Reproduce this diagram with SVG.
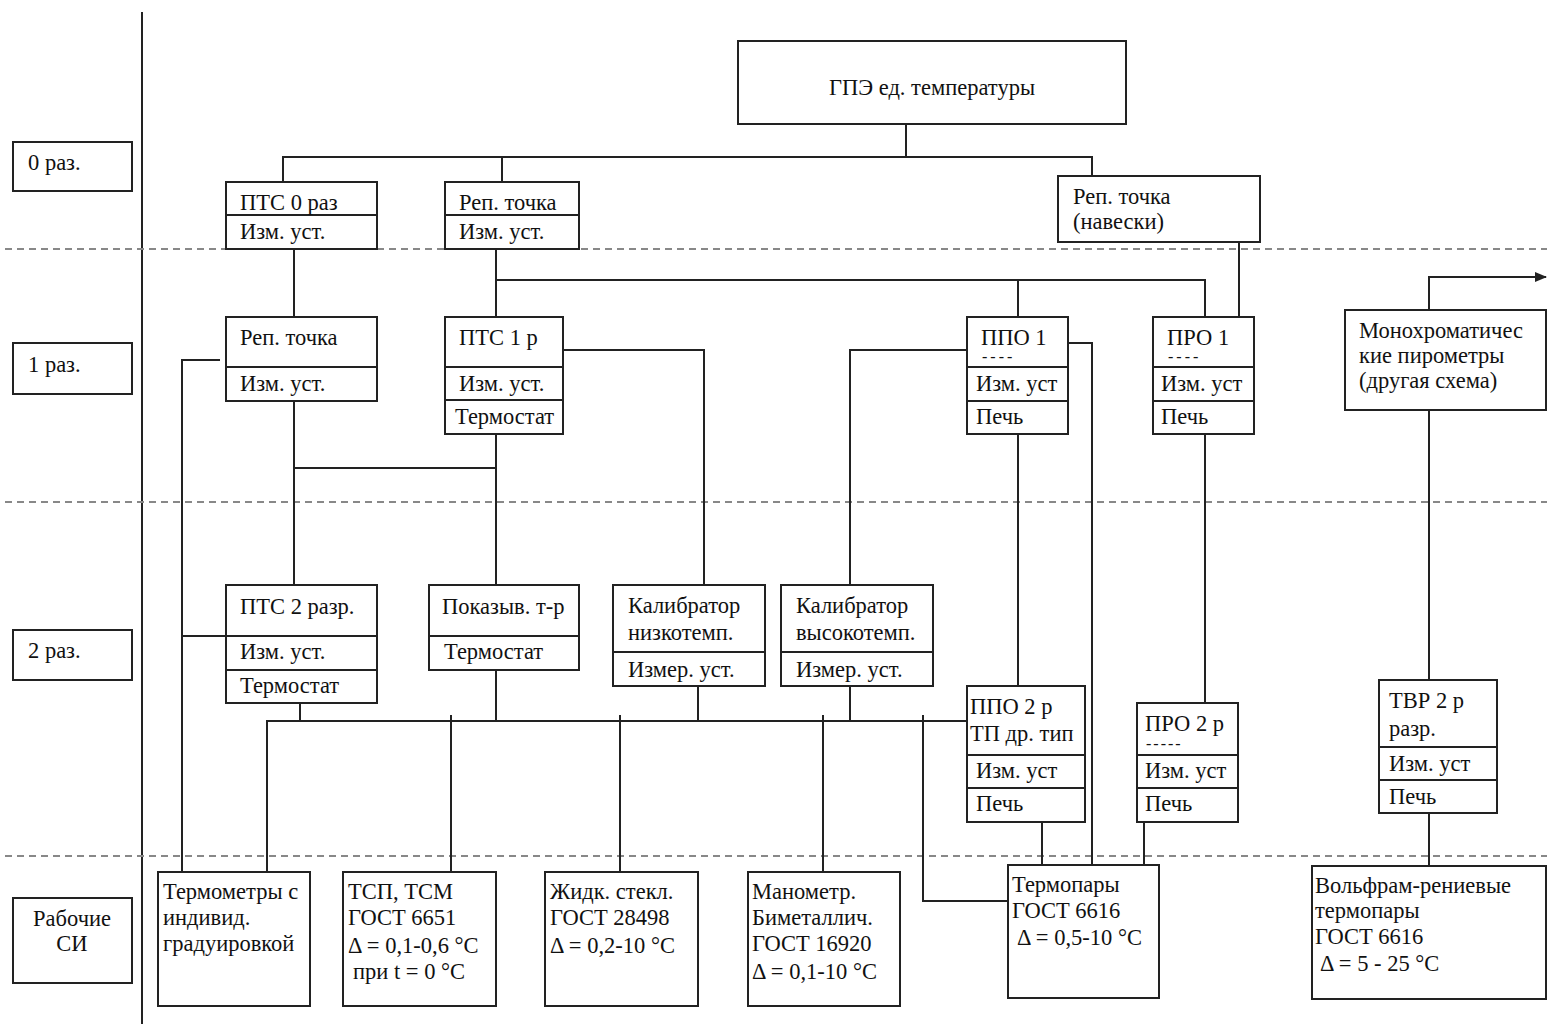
<svg xmlns="http://www.w3.org/2000/svg" width="1547" height="1024" viewBox="0 0 1547 1024">
<style>
.b{fill:#fff;stroke:#222;stroke-width:2}
.d{fill:none;stroke:#222;stroke-width:2}
.c{fill:none;stroke:#222;stroke-width:2}
.dash{stroke:#888;stroke-width:2;stroke-dasharray:7,5}
text{font-family:"Liberation Serif","Times New Roman",serif;font-size:22.5px;fill:#111}
.s{font-size:16px}
.m{text-anchor:middle}
</style>
<defs>
<marker id="arr" markerWidth="12" markerHeight="12" refX="11" refY="6" orient="auto" markerUnits="userSpaceOnUse"><path d="M0,1 L12,6 L0,11 z" fill="#222"/></marker>
</defs>
<rect width="1547" height="1024" fill="#fff"/>
<g id="grid">
<line x1="142" y1="12" x2="142" y2="1024" class="d"/>
<line x1="5" y1="249" x2="1547" y2="249" class="dash"/>
<line x1="5" y1="502" x2="1547" y2="502" class="dash"/>
<line x1="5" y1="856" x2="1547" y2="856" class="dash"/>
</g>
<g id="labels">
<g id="lbl0"><rect x="13" y="142" width="119" height="49" class="b"/><text x="28" y="170">0 раз.</text></g>
<g id="lbl1"><rect x="13" y="343" width="119" height="51" class="b"/><text x="28" y="372">1 раз.</text></g>
<g id="lbl2"><rect x="13" y="630" width="119" height="50" class="b"/><text x="28" y="658">2 раз.</text></g>
<g id="lbl3"><rect x="13" y="898" width="119" height="85" class="b"/><text x="72" y="926" class="m">Рабочие</text><text x="72" y="951" class="m">СИ</text></g>
</g>
<g id="connectors">
<path class="c" d="M906 124V157M283 182V157H1092V176M502 157V182"/>
<path class="c" d="M294 249V317"/>
<path class="c" d="M496 249V317M496 280H1205V317M1018 280V317"/>
<path class="c" d="M1239 242V317"/>
<path class="c" d="M1429 310V277H1546" marker-end="url(#arr)"/>
<path class="c" d="M1429 410V680M1429 813V866"/>
<path class="c" d="M220 360H182V872M182 636H226"/>
<path class="c" d="M294 401V585M294 468H496M496 434V585"/>
<path class="c" d="M563 350H704V585"/>
<path class="c" d="M967 350H850V585"/>
<path class="c" d="M1068 343H1092V865"/>
<path class="c" d="M1018 434V686"/>
<path class="c" d="M1205 434V703"/>
<path class="c" d="M300 703V721M267 872V721H967M451 715V872M496 670V721M620 715V872M698 686V721M823 715V872M850 686V721M923 715V901H1008"/>
<path class="c" d="M1042 822V865M1144 822V865"/>
</g>
<g id="n_gpe"><rect x="738" y="41" width="388" height="83" class="b"/><text x="932" y="95" class="m">ГПЭ ед. температуры</text></g>
<g id="n_pts0"><rect x="226" y="182" width="151" height="67" class="b"/><line x1="226" y1="215" x2="377" y2="215" class="d"/><text x="240" y="210">ПТС 0 раз</text><text x="240" y="239">Изм. уст.</text></g>
<g id="n_rep0"><rect x="445" y="182" width="134" height="67" class="b"/><line x1="445" y1="215" x2="579" y2="215" class="d"/><text x="459" y="210">Реп. точка</text><text x="459" y="239">Изм. уст.</text></g>
<g id="n_repnav"><rect x="1058" y="176" width="202" height="66" class="b"/><text x="1073" y="204">Реп. точка</text><text x="1073" y="229">(навески)</text></g>
<g id="n_rep1"><rect x="226" y="317" width="151" height="84" class="b"/><line x1="226" y1="367" x2="377" y2="367" class="d"/><text x="240" y="345">Реп. точка</text><text x="240" y="391">Изм. уст.</text></g>
<g id="n_pts1"><rect x="445" y="317" width="118" height="117" class="b"/><line x1="445" y1="367" x2="563" y2="367" class="d"/><line x1="445" y1="400" x2="563" y2="400" class="d"/><text x="459" y="345">ПТС 1 р</text><text x="459" y="391">Изм. уст.</text><text x="455" y="424">Термостат</text></g>
<g id="n_ppo1"><rect x="967" y="317" width="101" height="117" class="b"/><line x1="967" y1="367" x2="1068" y2="367" class="d"/><line x1="967" y1="401" x2="1068" y2="401" class="d"/><text x="981" y="345">ППО 1</text><text x="982" y="362" class="s" letter-spacing="3">----</text><text x="976" y="391">Изм. уст</text><text x="976" y="424">Печь</text></g>
<g id="n_pro1"><rect x="1153" y="317" width="101" height="117" class="b"/><line x1="1153" y1="367" x2="1254" y2="367" class="d"/><line x1="1153" y1="401" x2="1254" y2="401" class="d"/><text x="1167" y="345">ПРО 1</text><text x="1168" y="362" class="s" letter-spacing="3">----</text><text x="1161" y="391">Изм. уст</text><text x="1161" y="424">Печь</text></g>
<g id="n_mono"><rect x="1345" y="310" width="201" height="100" class="b"/><text x="1359" y="338">Монохроматичес</text><text x="1359" y="363">кие пирометры</text><text x="1359" y="388">(другая схема)</text></g>
<g id="n_pts2"><rect x="226" y="585" width="151" height="118" class="b"/><line x1="226" y1="636" x2="377" y2="636" class="d"/><line x1="226" y1="670" x2="377" y2="670" class="d"/><text x="240" y="614">ПТС 2 разр.</text><text x="240" y="659">Изм. уст.</text><text x="240" y="693">Термостат</text></g>
<g id="n_pokaz"><rect x="429" y="585" width="150" height="85" class="b"/><line x1="429" y1="636" x2="579" y2="636" class="d"/><text x="442" y="614">Показыв. т-р</text><text x="444" y="659">Термостат</text></g>
<g id="n_kalnizk"><rect x="613" y="585" width="152" height="101" class="b"/><line x1="613" y1="652" x2="765" y2="652" class="d"/><text x="628" y="613">Калибратор</text><text x="628" y="640">низкотемп.</text><text x="628" y="677">Измер. уст.</text></g>
<g id="n_kalvys"><rect x="781" y="585" width="152" height="101" class="b"/><line x1="781" y1="652" x2="933" y2="652" class="d"/><text x="796" y="613">Калибратор</text><text x="796" y="640">высокотемп.</text><text x="796" y="677">Измер. уст.</text></g>
<g id="n_ppo2"><rect x="967" y="686" width="118" height="136" class="b"/><line x1="967" y1="755" x2="1085" y2="755" class="d"/><line x1="967" y1="788" x2="1085" y2="788" class="d"/><text x="970" y="714">ППО 2 р</text><text x="970" y="741">ТП др. тип</text><text x="976" y="778">Изм. уст</text><text x="976" y="811">Печь</text></g>
<g id="n_pro2"><rect x="1137" y="703" width="101" height="119" class="b"/><line x1="1137" y1="755" x2="1238" y2="755" class="d"/><line x1="1137" y1="788" x2="1238" y2="788" class="d"/><text x="1145" y="731">ПРО 2 р</text><text x="1146" y="749" class="s" letter-spacing="2">-----</text><text x="1145" y="778">Изм. уст</text><text x="1145" y="811">Печь</text></g>
<g id="n_tvr2"><rect x="1379" y="680" width="118" height="133" class="b"/><line x1="1379" y1="747" x2="1497" y2="747" class="d"/><line x1="1379" y1="780" x2="1497" y2="780" class="d"/><text x="1389" y="708">ТВР 2 р</text><text x="1389" y="736">разр.</text><text x="1389" y="771">Изм. уст</text><text x="1389" y="804">Печь</text></g>
<g id="n_termind"><rect x="158" y="872" width="152" height="134" class="b"/><text x="163" y="899">Термометры с</text><text x="163" y="925">индивид.</text><text x="163" y="951">градуировкой</text></g>
<g id="n_tsp"><rect x="343" y="872" width="153" height="134" class="b"/><text x="348" y="899">ТСП, ТСМ</text><text x="348" y="925">ГОСТ 6651</text><text x="348" y="953">Δ = 0,1-0,6 °C</text><text x="353" y="979">при t = 0 °C</text></g>
<g id="n_zhidk"><rect x="545" y="872" width="153" height="134" class="b"/><text x="550" y="899">Жидк. стекл.</text><text x="550" y="925">ГОСТ 28498</text><text x="550" y="953">Δ = 0,2-10 °C</text></g>
<g id="n_manom"><rect x="748" y="872" width="152" height="134" class="b"/><text x="752" y="899">Манометр.</text><text x="752" y="925">Биметаллич.</text><text x="752" y="951">ГОСТ 16920</text><text x="752" y="979">Δ = 0,1-10 °C</text></g>
<g id="n_termop"><rect x="1008" y="865" width="151" height="133" class="b"/><text x="1012" y="892">Термопары</text><text x="1012" y="918">ГОСТ 6616</text><text x="1017" y="945">Δ = 0,5-10 °C</text></g>
<g id="n_volfr"><rect x="1312" y="866" width="234" height="133" class="b"/><text x="1315" y="893">Вольфрам-рениевые</text><text x="1315" y="918">термопары</text><text x="1315" y="944">ГОСТ 6616</text><text x="1320" y="971">Δ = 5 - 25 °C</text></g>
</svg>
